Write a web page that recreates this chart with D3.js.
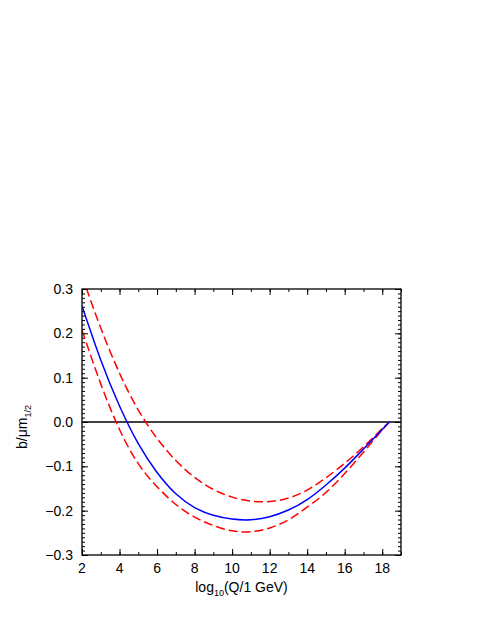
<!DOCTYPE html>
<html>
<head>
<meta charset="utf-8">
<script src="https://cdn.jsdelivr.net/npm/d3@7"></script>
<style>
  body { margin: 0; background: #fff; }
  text { font-family: "Liberation Sans", Arial, sans-serif; }
</style>
</head>
<body>
<div id="chart"></div>
<script>
// curve values (x = log10(Q/1 GeV))
const xCentral = [2, 3, 4, 5, 6, 7, 8, 9, 10, 11, 12, 13, 14, 15, 16, 17, 18, 18.38]
const yCentral = [0.262, 0.140, 0.036, -0.049, -0.114, -0.162, -0.193, -0.2105, -0.219, -0.2205, -0.2135, -0.1985, -0.175, -0.142, -0.104, -0.061, -0.017, 0]

const xUpper = [2.23, 3, 4, 5, 6, 7, 8, 9, 10, 11, 12, 13, 14, 15, 16, 17, 18, 18.38]
const yUpper = [0.302, 0.212, 0.110, 0.027, -0.037, -0.087, -0.125, -0.152, -0.1695, -0.1785, -0.1795, -0.1715, -0.1535, -0.126, -0.093, -0.056, -0.015, 0]

const xLower = [2, 3, 4, 5, 6, 7, 8, 9, 10, 11, 12, 13, 14, 15, 16, 17, 18, 18.38]
const yLower = [0.207, 0.086, -0.017, -0.094, -0.146, -0.186, -0.2145, -0.2335, -0.2455, -0.2475, -0.239, -0.2205, -0.192, -0.159, -0.116, -0.068, -0.018, 0]

const xTicks = [2, 4, 6, 8, 10, 12, 14, 16, 18]
const yTicks = [-0.3, -0.2, -0.1, 0.0, 0.1, 0.2, 0.3]

// frame of the plot
const margin = { top: 289, right: 84, bottom: 72, left: 82 },
    width = 485 - margin.left - margin.right,
    height = 627 - margin.top - margin.bottom;

const svg = d3.select("#chart").append("svg")
    .attr("width", 485)
    .attr("height", 627)

const g = svg.append("g")
    .attr("transform", `translate(${margin.left},${margin.top})`)

const x = d3.scaleLinear().domain([2, 19]).range([0, width])
const y = d3.scaleLinear().domain([-0.3, 0.3]).range([height, 0])

const fmtY = d => d3.format(".1f")(d).replace("-", "\u2212")

// ticks on all four sides, pointing inward
function ticksX(axis, major, minor) {
    axis.append("g").call(d3.axisBottom(x).tickValues(d3.range(2, 19.01, 1)).tickSize(3).tickFormat(""))
        .call(s => s.selectAll("line").attr("y2", minor))
    axis.append("g").call(d3.axisBottom(x).tickValues(xTicks).tickSize(6).tickFormat(""))
        .call(s => s.selectAll("line").attr("y2", major))
    axis.selectAll(".domain").remove()
}
function ticksY(axis, major, minor) {
    axis.append("g").call(d3.axisLeft(y).tickValues(d3.range(-30, 31, 1).map(d => d / 100)).tickSize(3).tickFormat(""))
        .call(s => s.selectAll("line").attr("x2", minor))
    axis.append("g").call(d3.axisLeft(y).tickValues(yTicks).tickSize(6).tickFormat(""))
        .call(s => s.selectAll("line").attr("x2", major))
    axis.selectAll(".domain").remove()
}

const axBottom = g.append("g").attr("transform", `translate(0,${height})`)
ticksX(axBottom, -6, -3)
const axTop = g.append("g")
ticksX(axTop, 6, 3)
const axLeft = g.append("g")
ticksY(axLeft, 6, 3)
const axRight = g.append("g").attr("transform", `translate(${width},0)`)
ticksY(axRight, -6, -3)
g.selectAll(".tick line").attr("stroke", "#000").attr("stroke-width", 1)

// tick labels
g.selectAll(".xlab")
    .data(xTicks)
    .join("text")
    .attr("class", "xlab")
    .attr("x", d => x(d))
    .attr("y", height + 18)
    .attr("text-anchor", "middle")
    .attr("font-size", 14)
    .text(d => d)

g.selectAll(".ylab")
    .data(yTicks)
    .join("text")
    .attr("class", "ylab")
    .attr("x", -9)
    .attr("y", d => y(d) + 5)
    .attr("text-anchor", "end")
    .attr("font-size", 14)
    .text(fmtY)

// zero line
g.append("line")
    .attr("x1", 0).attr("x2", width)
    .attr("y1", y(0)).attr("y2", y(0))
    .attr("stroke", "#000").attr("stroke-width", 1.3)

g.append("clipPath").attr("id", "clip")
    .append("rect").attr("width", width).attr("height", height)

const line = d3.line()
    .x(d => x(d[0]))
    .y(d => y(d[1]))
    .curve(d3.curveNatural)

const curves = [
    { xs: xUpper, ys: yUpper, color: "#ff0000", dash: "9,4" },
    { xs: xLower, ys: yLower, color: "#ff0000", dash: "9,4" },
    { xs: xCentral, ys: yCentral, color: "#0000ff", dash: null }
]

g.append("g").attr("clip-path", "url(#clip)")
    .selectAll("path")
    .data(curves)
    .join("path")
    .attr("d", c => line(c.xs.map((v, i) => [v, c.ys[i]])))
    .attr("fill", "none")
    .attr("stroke", c => c.color)
    .attr("stroke-width", 1.5)
    .attr("stroke-dasharray", c => c.dash)

// frame
g.append("rect")
    .attr("width", width).attr("height", height)
    .attr("fill", "none").attr("stroke", "#000").attr("stroke-width", 1.3)

// axis titles
const xt = svg.append("text")
    .attr("x", margin.left + width / 2)
    .attr("y", 592)
    .attr("text-anchor", "middle")
    .attr("font-size", 14)
xt.append("tspan").text("log")
xt.append("tspan").attr("font-size", 9).attr("dy", 4).text("10")
xt.append("tspan").attr("dy", -4).text("(Q/1 GeV)")

const yt = svg.append("text")
    .attr("transform", `translate(27,${margin.top + y(0) + 5}) rotate(-90)`)
    .attr("text-anchor", "middle")
    .attr("font-size", 14)
yt.append("tspan").text("b/\u03bcm")
yt.append("tspan").attr("font-size", 9).attr("dy", 4).text("1/2")
</script>
</body>
</html>
